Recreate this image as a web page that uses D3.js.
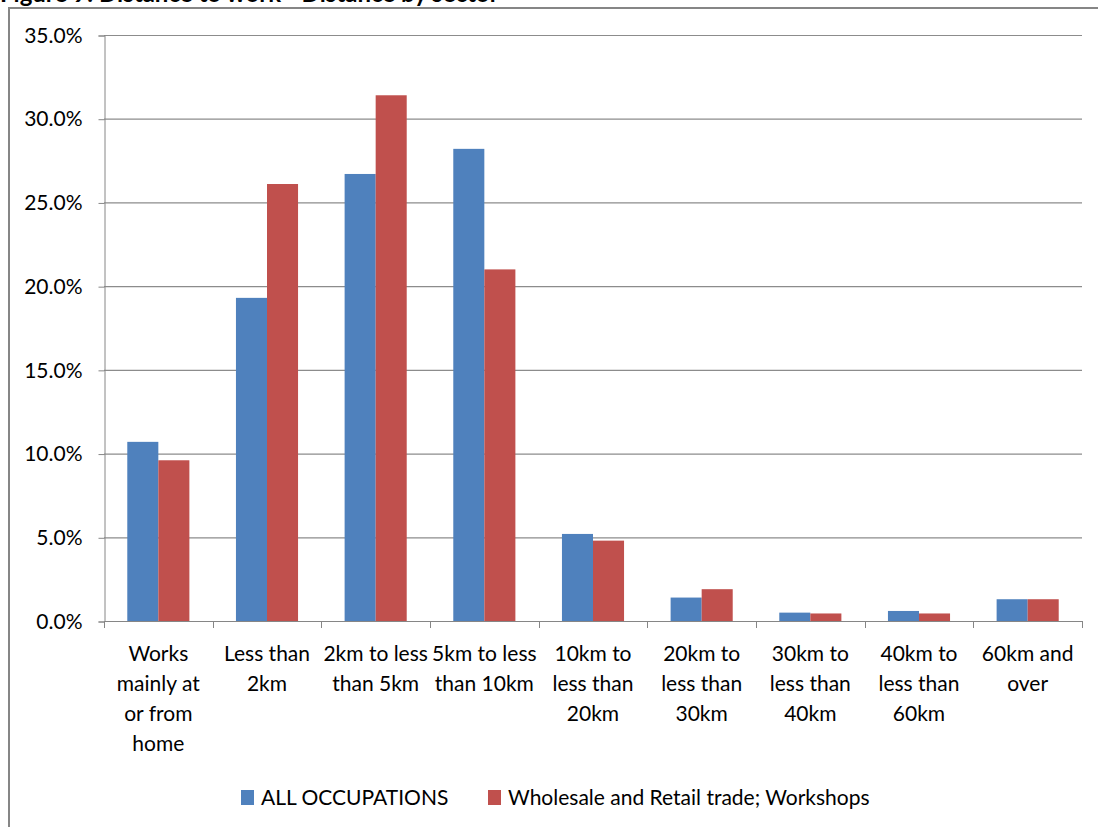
<!DOCTYPE html>
<html>
<head>
<meta charset="utf-8">
<script src="https://cdn.jsdelivr.net/npm/d3@7"></script>
<style>
  body { margin: 0; background: #fff; }
  svg { display: block; }
  text { font-family: Lato, "Open Sans", sans-serif; fill: #000; }
</style>
</head>
<body>
<div class="canvas"></div>
<script>
// chart data
const categories = [
  'Works mainly at or from home',
  'Less than 2km',
  '2km to less than 5km',
  '5km to less than 10km',
  '10km to less than 20km',
  '20km to less than 30km',
  '30km to less than 40km',
  '40km to less than 60km',
  '60km and over'
]

// label lines as they wrap under the axis
const categoryLines = [
  ['Works', 'mainly at', 'or from', 'home'],
  ['Less than', '2km'],
  ['2km to less', 'than 5km'],
  ['5km to less', 'than 10km'],
  ['10km to', 'less than', '20km'],
  ['20km to', 'less than', '30km'],
  ['30km to', 'less than', '40km'],
  ['40km to', 'less than', '60km'],
  ['60km and', 'over']
]

const seriesNames = ['ALL OCCUPATIONS', 'Wholesale and Retail trade; Workshops']

const allOccupations = [10.7, 19.3, 26.7, 28.2, 5.2, 1.4, 0.5, 0.6, 1.3]
const wholesaleRetail = [9.6, 26.1, 31.4, 21.0, 4.8, 1.9, 0.45, 0.45, 1.3]

const yTicks = [0, 5, 10, 15, 20, 25, 30, 35]

const colors = ['#4F81BD', '#C0504D']

const dims = {
  width: 1098,
  height: 827
}

const plot = { left: 104, right: 1082, top: 35, bottom: 621 }
const fontSize = 21

const svg = d3.select('.canvas').append('svg')
  .attr('width', dims.width)
  .attr('height', dims.height)

// title, mostly above the visible area as in the reference
svg.append('text')
  .attr('x', 0)
  .attr('y', 2)
  .attr('font-weight', 'bold')
  .attr('font-size', 24)
  .text('Figure 9: Distance to work - Distance by sector')

// outer chart frame
svg.append('rect')
  .attr('x', 9)
  .attr('y', 8)
  .attr('width', dims.width + 20)
  .attr('height', dims.height + 20)
  .attr('fill', '#fff')
  .attr('stroke', '#868686')
  .attr('stroke-width', 2)

const x0 = d3.scaleBand()
  .domain(categories)
  .range([plot.left, plot.right])
  .paddingInner(0)
  .paddingOuter(0)

const x1 = d3.scaleBand()
  .domain(seriesNames)
  .range([0, x0.bandwidth()])
  .paddingInner(0)
  .paddingOuter(0.75)

const y = d3.scaleLinear()
  .domain([0, 35])
  .range([plot.bottom, plot.top])

// gridlines
svg.append('g')
  .selectAll('line')
  .data(yTicks.filter(t => t > 0))
  .join('line')
  .attr('x1', plot.left)
  .attr('x2', plot.right)
  .attr('y1', d => y(d) + 0.5)
  .attr('y2', d => y(d) + 0.5)
  .attr('stroke', '#8c8c8c')
  .attr('stroke-width', 1.2)

// y axis
const yAxis = d3.axisLeft(y)
  .tickValues(yTicks)
  .tickSize(6)
  .tickPadding(16)
  .tickFormat(d => d.toFixed(1) + '%')

const yAxisGroup = svg.append('g')
  .attr('transform', `translate(${plot.left + 0.5}, 0.5)`)
  .call(yAxis)

yAxisGroup.select('.domain').attr('stroke', '#868686')
yAxisGroup.selectAll('.tick line').attr('stroke', '#868686')
yAxisGroup.selectAll('text')
  .attr('font-size', fontSize)
  .attr('font-family', 'Lato')
  .attr('fill', '#000')

// bars
const rows = categories.map((c, i) => ({
  category: c,
  values: [allOccupations[i], wholesaleRetail[i]]
}))

const groups = svg.append('g')
  .selectAll('g')
  .data(rows)
  .join('g')
  .attr('transform', d => `translate(${x0(d.category)}, 0)`)

groups.selectAll('rect')
  .data(d => d.values.map((v, i) => ({ name: seriesNames[i], value: v, i })))
  .join('rect')
  .attr('x', d => x1(d.name))
  .attr('width', x1.bandwidth())
  .attr('y', d => y(d.value))
  .attr('height', d => y(0) - y(d.value))
  .attr('fill', d => colors[d.i])

// x axis line and ticks at band edges
const xAxisGroup = svg.append('g')
xAxisGroup.append('line')
  .attr('x1', plot.left)
  .attr('x2', plot.right)
  .attr('y1', plot.bottom + 0.5)
  .attr('y2', plot.bottom + 0.5)
  .attr('stroke', '#868686')

const edges = categories.map(c => x0(c)).concat([plot.right])
xAxisGroup.selectAll('.xtick')
  .data(edges)
  .join('line')
  .attr('class', 'xtick')
  .attr('x1', d => Math.round(d) + 0.5)
  .attr('x2', d => Math.round(d) + 0.5)
  .attr('y1', plot.bottom)
  .attr('y2', plot.bottom + 7)
  .attr('stroke', '#868686')

// category labels
const labels = svg.append('g')
  .selectAll('text')
  .data(categories)
  .join('text')
  .attr('text-anchor', 'middle')
  .attr('font-size', fontSize)
  .attr('x', d => x0(d) + x0.bandwidth() / 2)
  .attr('y', 661)

labels.each(function (d, i) {
  d3.select(this).selectAll('tspan')
    .data(categoryLines[i])
    .join('tspan')
    .attr('x', x0(d) + x0.bandwidth() / 2)
    .attr('dy', (t, j) => j === 0 ? 0 : 30)
    .text(t => t)
})

// legend
const legendX = [241, 488]
const legend = svg.append('g')
  .selectAll('g')
  .data(seriesNames)
  .join('g')
  .attr('transform', (d, i) => `translate(${legendX[i]}, 790)`)

legend.append('rect')
  .attr('width', 13)
  .attr('height', 15)
  .attr('fill', (d, i) => colors[i])

legend.append('text')
  .attr('x', 20)
  .attr('y', 15)
  .attr('font-size', fontSize)
  .text(d => d)
</script>
</body>
</html>
